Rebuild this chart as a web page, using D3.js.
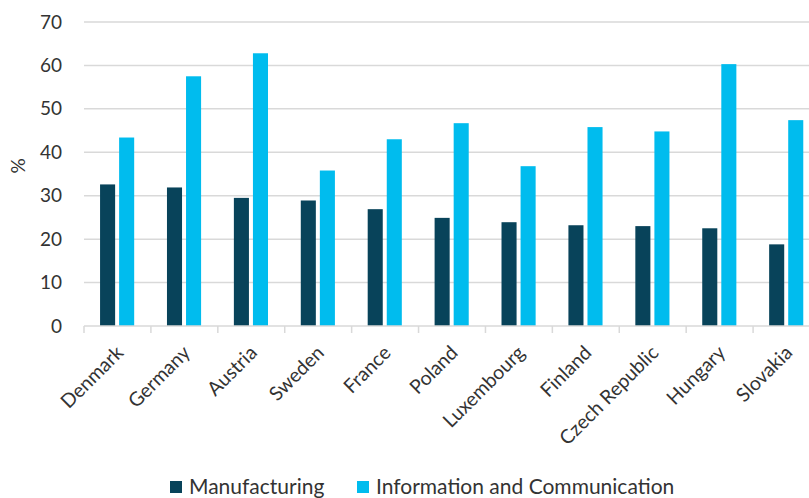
<!DOCTYPE html>
<html>
<head>
<meta charset="utf-8">
<script src="https://cdn.jsdelivr.net/npm/d3@7"></script>
<style>
  body { margin: 0; background: #fff; }
  svg { display: block; font-family: Lato, "Noto Sans", sans-serif; }
  .tick text { fill: #333; }
</style>
</head>
<body>
<div id="chart"></div>
<script>
// Chart data
var countries = ["Denmark", "Germany", "Austria", "Sweden", "France", "Poland",
                 "Luxembourg", "Finland", "Czech Republic", "Hungary", "Slovakia"];
var seriesNames = ["Manufacturing", "Information and Communication"];
var manufacturing = [32.6, 31.9, 29.5, 28.9, 26.9, 24.9, 23.9, 23.2, 23.0, 22.5, 18.8];
var infoComm = [43.4, 57.5, 62.8, 35.8, 43.0, 46.7, 36.8, 45.8, 44.8, 60.3, 47.4];
var yTicks = [0, 10, 20, 30, 40, 50, 60, 70];
var colors = ["#08435a", "#00bcee"];

var svgWidth = 809;
var svgHeight = 498;

var margins = { top: 22, right: -11, bottom: 172, left: 84 };
var width = svgWidth - margins.left - margins.right;
var height = svgHeight - margins.top - margins.bottom;

var svg = d3.select("#chart")
            .append("svg")
            .attr("width", svgWidth)
            .attr("height", svgHeight);

var chartGroup = svg.append("g")
                    .attr("transform", `translate(${margins.left}, ${margins.top})`);

// Scales
var xScale = d3.scaleBand()
    .domain(countries)
    .range([0, width])
    .padding(0);

var bw = xScale.bandwidth();
var xInner = d3.scaleBand()
    .domain(seriesNames)
    .range([bw * 0.24, bw * 0.75])
    .paddingInner(0.21);

var yScale = d3.scaleLinear()
    .domain([0, 70])
    .range([height, 0]);

// Gridlines
chartGroup.append("g")
    .selectAll("line")
    .data(yTicks.slice(1))
    .enter()
    .append("line")
    .attr("x1", 0)
    .attr("x2", width)
    .attr("y1", d => yScale(d))
    .attr("y2", d => yScale(d))
    .attr("stroke", "#d9d9d9")
    .attr("stroke-width", 1.5);

// Y axis (labels only)
var leftAxis = d3.axisLeft(yScale).tickValues(yTicks).tickSize(0).tickPadding(22);
var yAxis = chartGroup.append("g").call(leftAxis);
yAxis.select(".domain").remove();
yAxis.selectAll("text").attr("font-size", 19).attr("font-family", "Lato, sans-serif");

// Bars
var rows = countries.map((c, i) => ({ country: c, values: [manufacturing[i], infoComm[i]] }));

var groups = chartGroup.selectAll(".country")
    .data(rows)
    .enter()
    .append("g")
    .attr("class", "country")
    .attr("transform", d => `translate(${xScale(d.country)}, 0)`);

groups.selectAll("rect")
    .data(d => d.values.map((v, j) => ({ key: seriesNames[j], value: v, idx: j })))
    .enter()
    .append("rect")
    .attr("x", d => xInner(d.key))
    .attr("width", xInner.bandwidth())
    .attr("y", d => yScale(d.value))
    .attr("height", d => height - yScale(d.value))
    .attr("fill", d => colors[d.idx]);

// X axis line and ticks at band edges
chartGroup.append("line")
    .attr("x1", 0).attr("x2", width)
    .attr("y1", height).attr("y2", height)
    .attr("stroke", "#d9d9d9")
    .attr("stroke-width", 1.5);

chartGroup.append("g")
    .selectAll("line")
    .data(countries)
    .enter()
    .append("line")
    .attr("x1", d => xScale(d))
    .attr("x2", d => xScale(d))
    .attr("y1", height)
    .attr("y2", height + 7)
    .attr("stroke", "#d9d9d9")
    .attr("stroke-width", 1.5);

// Rotated country labels
chartGroup.append("g")
    .selectAll("text")
    .data(countries)
    .enter()
    .append("text")
    .attr("transform", d => `translate(${xScale(d) + bw / 2 + 7}, ${height + 28}) rotate(-45)`)
    .attr("text-anchor", "end")
    .attr("font-size", 19.5)
    .attr("fill", "#333")
    .text(d => d);

// Y axis title
svg.append("text")
    .attr("transform", `translate(25, ${margins.top + height / 2 - 8}) rotate(-90)`)
    .attr("text-anchor", "middle")
    .attr("font-size", 19)
    .attr("fill", "#333")
    .text("%");

// Legend
var legendItems = [{ x: 170, name: seriesNames[0], color: colors[0] },
                   { x: 357, name: seriesNames[1], color: colors[1] }];

var legend = svg.append("g");
legend.selectAll("rect")
    .data(legendItems)
    .enter()
    .append("rect")
    .attr("x", d => d.x)
    .attr("y", 481)
    .attr("width", 12)
    .attr("height", 12)
    .attr("fill", d => d.color);

legend.selectAll("text")
    .data(legendItems)
    .enter()
    .append("text")
    .attr("x", d => d.x + 19)
    .attr("y", 494)
    .attr("font-size", 21)
    .attr("fill", "#333")
    .text(d => d.name);
</script>
</body>
</html>
